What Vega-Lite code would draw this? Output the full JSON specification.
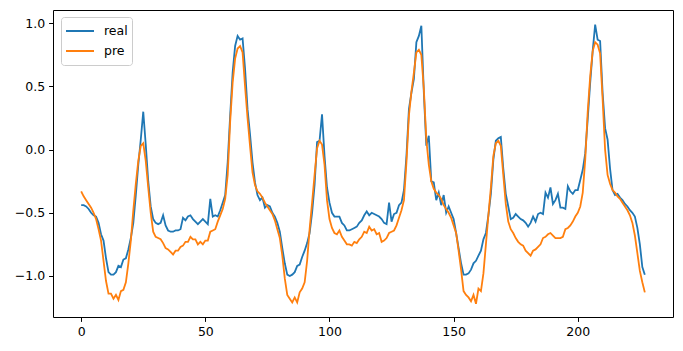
{
  "$schema": "https://vega.github.io/schema/vega-lite/v6.json",
  "width": 620,
  "height": 307,
  "autosize": {"type": "none"},
  "padding": {"left": 53, "top": 10, "right": 10, "bottom": 34},
  "background": "white",
  "config": {
    "view": {"stroke": "black", "strokeWidth": 1},
    "axis": {
      "grid": false,
      "domain": false,
      "tickColor": "black",
      "tickSize": 4.4,
      "tickWidth": 1,
      "labelFont": "DejaVu Sans",
      "labelFontSize": 12.5,
      "labelColor": "black",
      "labelPadding": 4,
      "title": null
    }
  },
  "data": {"values": [
    {"i":0,"real":-0.44,"pre":-0.33},{"i":1,"real":-0.44,"pre":-0.37},{"i":2,"real":-0.45,"pre":-0.40},{"i":3,"real":-0.47,"pre":-0.43},{"i":4,"real":-0.50,"pre":-0.46},
    {"i":5,"real":-0.52,"pre":-0.50},{"i":6,"real":-0.53,"pre":-0.55},{"i":7,"real":-0.58,"pre":-0.63},{"i":8,"real":-0.67,"pre":-0.72},{"i":9,"real":-0.72,"pre":-0.88},
    {"i":10,"real":-0.86,"pre":-1.04},{"i":11,"real":-0.97,"pre":-1.14},{"i":12,"real":-0.99,"pre":-1.14},{"i":13,"real":-0.99,"pre":-1.18},{"i":14,"real":-0.97,"pre":-1.15},
    {"i":15,"real":-0.92,"pre":-1.19},{"i":16,"real":-0.93,"pre":-1.12},{"i":17,"real":-0.87,"pre":-1.11},{"i":18,"real":-0.86,"pre":-1.05},{"i":19,"real":-0.79,"pre":-0.90},
    {"i":20,"real":-0.70,"pre":-0.72},{"i":21,"real":-0.58,"pre":-0.48},{"i":22,"real":-0.36,"pre":-0.27},{"i":23,"real":-0.12,"pre":-0.09},{"i":24,"real":0.08,"pre":0.03},
    {"i":25,"real":0.30,"pre":0.05},{"i":26,"real":0.04,"pre":-0.09},{"i":27,"real":-0.25,"pre":-0.30},{"i":28,"real":-0.45,"pre":-0.50},{"i":29,"real":-0.55,"pre":-0.65},
    {"i":30,"real":-0.58,"pre":-0.69},{"i":31,"real":-0.59,"pre":-0.70},{"i":32,"real":-0.58,"pre":-0.71},{"i":33,"real":-0.52,"pre":-0.74},{"i":34,"real":-0.60,"pre":-0.78},
    {"i":35,"real":-0.64,"pre":-0.79},{"i":36,"real":-0.65,"pre":-0.81},{"i":37,"real":-0.65,"pre":-0.83},{"i":38,"real":-0.64,"pre":-0.80},{"i":39,"real":-0.64,"pre":-0.80},
    {"i":40,"real":-0.63,"pre":-0.77},{"i":41,"real":-0.54,"pre":-0.76},{"i":42,"real":-0.56,"pre":-0.73},{"i":43,"real":-0.53,"pre":-0.73},{"i":44,"real":-0.52,"pre":-0.69},
    {"i":45,"real":-0.55,"pre":-0.71},{"i":46,"real":-0.57,"pre":-0.71},{"i":47,"real":-0.59,"pre":-0.75},{"i":48,"real":-0.57,"pre":-0.73},{"i":49,"real":-0.55,"pre":-0.75},
    {"i":50,"real":-0.57,"pre":-0.72},{"i":51,"real":-0.59,"pre":-0.72},{"i":52,"real":-0.39,"pre":-0.65},{"i":53,"real":-0.53,"pre":-0.64},{"i":54,"real":-0.52,"pre":-0.63},
    {"i":55,"real":-0.53,"pre":-0.57},{"i":56,"real":-0.48,"pre":-0.52},{"i":57,"real":-0.42,"pre":-0.47},{"i":58,"real":-0.36,"pre":-0.39},{"i":59,"real":-0.10,"pre":-0.20},
    {"i":60,"real":0.27,"pre":0.22},{"i":61,"real":0.61,"pre":0.53},{"i":62,"real":0.82,"pre":0.72},{"i":63,"real":0.90,"pre":0.80},{"i":64,"real":0.87,"pre":0.82},
    {"i":65,"real":0.88,"pre":0.77},{"i":66,"real":0.64,"pre":0.50},{"i":67,"real":0.32,"pre":0.25},{"i":68,"real":0.12,"pre":0.03},{"i":69,"real":-0.10,"pre":-0.18},
    {"i":70,"real":-0.26,"pre":-0.28},{"i":71,"real":-0.36,"pre":-0.33},{"i":72,"real":-0.40,"pre":-0.35},{"i":73,"real":-0.38,"pre":-0.38},{"i":74,"real":-0.46,"pre":-0.42},
    {"i":75,"real":-0.44,"pre":-0.45},{"i":76,"real":-0.45,"pre":-0.48},{"i":77,"real":-0.50,"pre":-0.51},{"i":78,"real":-0.53,"pre":-0.56},{"i":79,"real":-0.58,"pre":-0.63},
    {"i":80,"real":-0.65,"pre":-0.70},{"i":81,"real":-0.78,"pre":-0.84},{"i":82,"real":-0.90,"pre":-1.02},{"i":83,"real":-0.99,"pre":-1.15},{"i":84,"real":-1.00,"pre":-1.18},
    {"i":85,"real":-0.99,"pre":-1.21},{"i":86,"real":-0.97,"pre":-1.17},{"i":87,"real":-0.92,"pre":-1.21},{"i":88,"real":-0.91,"pre":-1.13},{"i":89,"real":-0.85,"pre":-1.10},
    {"i":90,"real":-0.80,"pre":-1.05},{"i":91,"real":-0.74,"pre":-0.88},{"i":92,"real":-0.66,"pre":-0.63},{"i":93,"real":-0.50,"pre":-0.42},{"i":94,"real":-0.28,"pre":-0.20},
    {"i":95,"real":0.06,"pre":0.01},{"i":96,"real":0.07,"pre":0.07},{"i":97,"real":0.28,"pre":0.04},{"i":98,"real":-0.05,"pre":-0.12},{"i":99,"real":-0.30,"pre":-0.40},
    {"i":100,"real":-0.42,"pre":-0.55},{"i":101,"real":-0.50,"pre":-0.62},{"i":102,"real":-0.53,"pre":-0.66},{"i":103,"real":-0.53,"pre":-0.67},{"i":104,"real":-0.53,"pre":-0.64},
    {"i":105,"real":-0.58,"pre":-0.69},{"i":106,"real":-0.60,"pre":-0.72},{"i":107,"real":-0.64,"pre":-0.75},{"i":108,"real":-0.64,"pre":-0.75},{"i":109,"real":-0.63,"pre":-0.76},
    {"i":110,"real":-0.62,"pre":-0.73},{"i":111,"real":-0.61,"pre":-0.74},{"i":112,"real":-0.58,"pre":-0.71},{"i":113,"real":-0.56,"pre":-0.69},{"i":114,"real":-0.52,"pre":-0.65},
    {"i":115,"real":-0.49,"pre":-0.66},{"i":116,"real":-0.52,"pre":-0.61},{"i":117,"real":-0.50,"pre":-0.64},{"i":118,"real":-0.51,"pre":-0.63},{"i":119,"real":-0.52,"pre":-0.67},
    {"i":120,"real":-0.53,"pre":-0.66},{"i":121,"real":-0.55,"pre":-0.73},{"i":122,"real":-0.58,"pre":-0.72},{"i":123,"real":-0.59,"pre":-0.70},{"i":124,"real":-0.42,"pre":-0.66},
    {"i":125,"real":-0.57,"pre":-0.65},{"i":126,"real":-0.51,"pre":-0.64},{"i":127,"real":-0.50,"pre":-0.60},{"i":128,"real":-0.44,"pre":-0.54},{"i":129,"real":-0.42,"pre":-0.48},
    {"i":130,"real":-0.32,"pre":-0.40},{"i":131,"real":-0.05,"pre":-0.10},{"i":132,"real":0.32,"pre":0.27},{"i":133,"real":0.45,"pre":0.46},{"i":134,"real":0.56,"pre":0.61},
    {"i":135,"real":0.85,"pre":0.77},{"i":136,"real":0.90,"pre":0.79},{"i":137,"real":0.98,"pre":0.75},{"i":138,"real":0.45,"pre":0.48},{"i":139,"real":0.03,"pre":0.08},
    {"i":140,"real":0.11,"pre":-0.12},{"i":141,"real":-0.25,"pre":-0.25},{"i":142,"real":-0.26,"pre":-0.31},{"i":143,"real":-0.40,"pre":-0.34},{"i":144,"real":-0.34,"pre":-0.36},
    {"i":145,"real":-0.44,"pre":-0.39},{"i":146,"real":-0.36,"pre":-0.44},{"i":147,"real":-0.50,"pre":-0.47},{"i":148,"real":-0.45,"pre":-0.50},{"i":149,"real":-0.50,"pre":-0.54},
    {"i":150,"real":-0.55,"pre":-0.60},{"i":151,"real":-0.66,"pre":-0.66},{"i":152,"real":-0.78,"pre":-0.80},{"i":153,"real":-0.90,"pre":-0.95},{"i":154,"real":-0.99,"pre":-1.12},
    {"i":155,"real":-0.99,"pre":-1.15},{"i":156,"real":-0.98,"pre":-1.17},{"i":157,"real":-0.95,"pre":-1.20},{"i":158,"real":-0.90,"pre":-1.15},{"i":159,"real":-0.88,"pre":-1.22},
    {"i":160,"real":-0.84,"pre":-1.10},{"i":161,"real":-0.80,"pre":-1.12},{"i":162,"real":-0.71,"pre":-0.98},{"i":163,"real":-0.66,"pre":-0.75},{"i":164,"real":-0.52,"pre":-0.52},
    {"i":165,"real":-0.35,"pre":-0.30},{"i":166,"real":-0.08,"pre":-0.05},{"i":167,"real":0.07,"pre":0.05},{"i":168,"real":0.09,"pre":0.07},{"i":169,"real":0.10,"pre":0.03},
    {"i":170,"real":-0.15,"pre":-0.20},{"i":171,"real":-0.35,"pre":-0.43},{"i":172,"real":-0.45,"pre":-0.57},{"i":173,"real":-0.55,"pre":-0.63},{"i":174,"real":-0.54,"pre":-0.66},
    {"i":175,"real":-0.51,"pre":-0.70},{"i":176,"real":-0.53,"pre":-0.73},{"i":177,"real":-0.55,"pre":-0.75},{"i":178,"real":-0.56,"pre":-0.76},{"i":179,"real":-0.58,"pre":-0.80},
    {"i":180,"real":-0.61,"pre":-0.82},{"i":181,"real":-0.58,"pre":-0.84},{"i":182,"real":-0.53,"pre":-0.80},{"i":183,"real":-0.57,"pre":-0.79},{"i":184,"real":-0.51,"pre":-0.77},
    {"i":185,"real":-0.50,"pre":-0.75},{"i":186,"real":-0.51,"pre":-0.70},{"i":187,"real":-0.34,"pre":-0.69},{"i":188,"real":-0.38,"pre":-0.67},{"i":189,"real":-0.30,"pre":-0.66},
    {"i":190,"real":-0.43,"pre":-0.68},{"i":191,"real":-0.40,"pre":-0.70},{"i":192,"real":-0.35,"pre":-0.70},{"i":193,"real":-0.46,"pre":-0.70},{"i":194,"real":-0.46,"pre":-0.69},
    {"i":195,"real":-0.47,"pre":-0.63},{"i":196,"real":-0.29,"pre":-0.62},{"i":197,"real":-0.33,"pre":-0.60},{"i":198,"real":-0.35,"pre":-0.57},{"i":199,"real":-0.32,"pre":-0.53},
    {"i":200,"real":-0.32,"pre":-0.50},{"i":201,"real":-0.24,"pre":-0.45},{"i":202,"real":-0.16,"pre":-0.34},{"i":203,"real":-0.03,"pre":-0.08},{"i":204,"real":0.24,"pre":0.30},
    {"i":205,"real":0.53,"pre":0.58},{"i":206,"real":0.78,"pre":0.78},{"i":207,"real":0.99,"pre":0.85},{"i":208,"real":0.87,"pre":0.83},{"i":209,"real":0.86,"pre":0.76},
    {"i":210,"real":0.45,"pre":0.40},{"i":211,"real":0.17,"pre":0.00},{"i":212,"real":0.08,"pre":-0.20},{"i":213,"real":-0.15,"pre":-0.27},{"i":214,"real":-0.32,"pre":-0.32},
    {"i":215,"real":-0.36,"pre":-0.34},{"i":216,"real":-0.35,"pre":-0.37},{"i":217,"real":-0.38,"pre":-0.39},{"i":218,"real":-0.40,"pre":-0.42},{"i":219,"real":-0.43,"pre":-0.45},
    {"i":220,"real":-0.45,"pre":-0.48},{"i":221,"real":-0.48,"pre":-0.52},{"i":222,"real":-0.50,"pre":-0.58},{"i":223,"real":-0.53,"pre":-0.68},{"i":224,"real":-0.62,"pre":-0.82},
    {"i":225,"real":-0.75,"pre":-0.96},{"i":226,"real":-0.93,"pre":-1.05},{"i":227,"real":-0.99,"pre":-1.13}
  ]},
  "transform": [{"fold": ["real", "pre"], "as": ["series", "value"]}],
  "mark": {"type": "line", "strokeWidth": 1.8, "clip": true},
  "encoding": {
    "x": {
      "field": "i", "type": "quantitative",
      "scale": {"domain": [-11.35, 238.35], "nice": false, "zero": false},
      "axis": {"values": [0, 50, 100, 150, 200], "format": "d"}
    },
    "y": {
      "field": "value", "type": "quantitative",
      "scale": {"domain": [-1.325, 1.105], "nice": false, "zero": false},
      "axis": {"values": [-1, -0.5, 0, 0.5, 1], "format": ".1f"}
    },
    "color": {
      "field": "series", "type": "nominal",
      "scale": {"domain": ["real", "pre"], "range": ["#1f77b4", "#ff7f0e"]},
      "legend": {
        "title": null,
        "orient": "none",
        "legendX": 8,
        "legendY": 7,
        "direction": "vertical",
        "symbolType": "stroke",
        "symbolSize": 784,
        "symbolStrokeWidth": 1.8,
        "clipHeight": 20,
        "labelFont": "DejaVu Sans",
        "labelFontSize": 12.5,
        "labelColor": "black",
        "labelOffset": 9,
        "rowPadding": 0,
        "padding": 4,
        "strokeColor": "#cccccc",
        "fillColor": "rgba(255,255,255,0.8)",
        "cornerRadius": 3
      }
    },
    "order": {"field": "i", "type": "quantitative"}
  }
}
